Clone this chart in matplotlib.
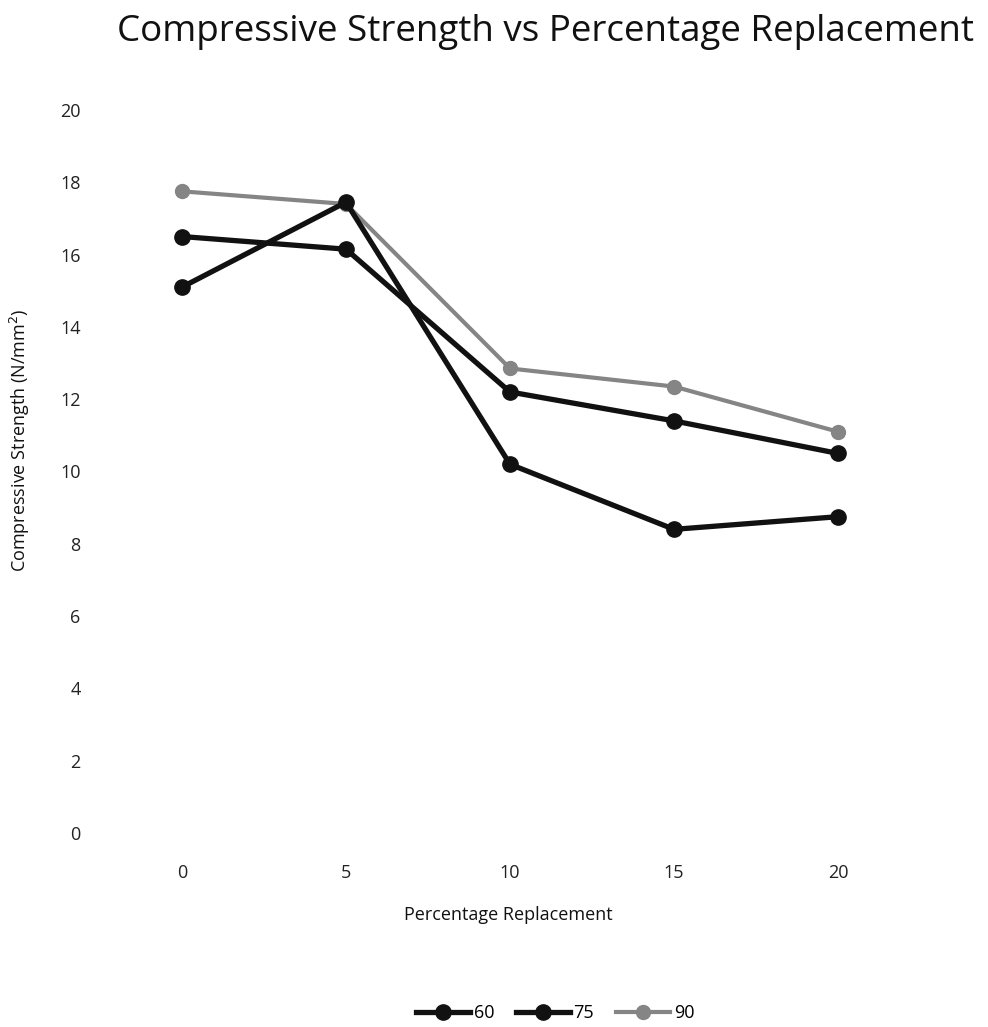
import numpy as np
import matplotlib.pyplot as plt

plt.rcParams['font.family'] = ['Open Sans', 'DejaVu Sans']

categories = ["0", "5", "10", "15", "20"]
s60 = [15.1, 17.45, 10.2, 8.4, 8.75]
s75 = [16.5, 16.15, 12.2, 11.4, 10.5]
s90 = [17.75, 17.4, 12.85, 12.35, 11.1]

fig = plt.figure(figsize=(9.88, 10.27), dpi=100)
ax = fig.add_axes([100 / 988, 1 - 833 / 1027, 820 / 988, (833 - 110) / 1027])

x = np.arange(len(categories))
ax.plot(x, s60, color="#111111", lw=3.8, marker="o", ms=11, label="60", zorder=3)
ax.plot(x, s75, color="#111111", lw=3.8, marker="o", ms=11, label="75", zorder=3)
ax.plot(x, s90, color="#858585", lw=3.0, marker="o", ms=10, label="90", zorder=2)

ax.set_xlim(-0.5, len(categories) - 0.5)
ax.set_ylim(0, 20)
ax.set_yticks(range(0, 21, 2))
ax.set_xticks(x)
ax.set_xticklabels(categories)
for s in ax.spines.values():
    s.set_visible(False)
ax.tick_params(length=0, labelsize=13, colors="#222222")
ax.tick_params(axis="y", pad=14)
ax.tick_params(axis="x", pad=22)

fig.text(545 / 988, 1 - 32 / 1027, "Compressive Strength vs Percentage Replacement",
         ha="center", va="center", fontsize=26.5, color="#111111")
fig.text(20 / 988, 1 - 440 / 1027, "Compressive Strength (N/mm$^2$)", rotation=90,
         ha="center", va="center", fontsize=13, color="#111111")
fig.text(508 / 988, 1 - 915 / 1027, "Percentage Replacement",
         ha="center", va="center", fontsize=13, color="#111111")

fig.legend(loc="center", bbox_to_anchor=(555 / 988, 1 - 1013 / 1027), ncol=3,
           frameon=False, fontsize=13, handlelength=3, columnspacing=1.2, handletextpad=0.2)

fig.savefig("out.png", dpi=100)
